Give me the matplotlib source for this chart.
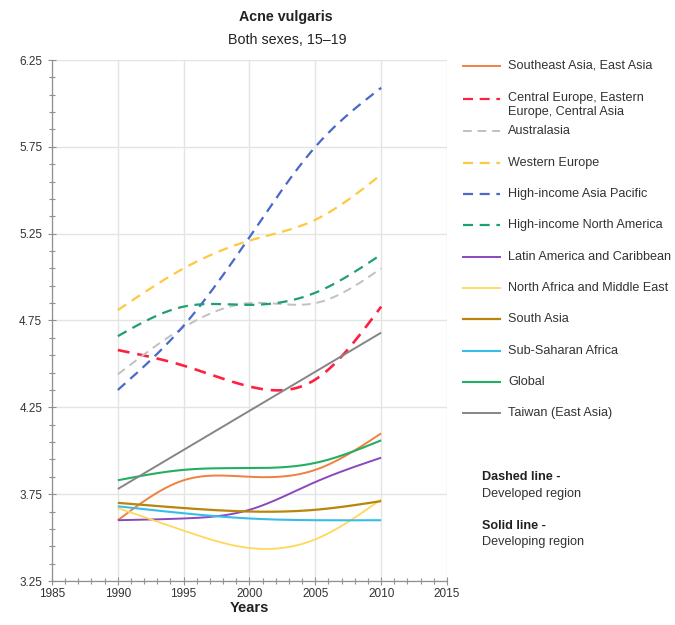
import numpy as np
import matplotlib
matplotlib.use("Agg")
import matplotlib.pyplot as plt
from matplotlib.lines import Line2D
from matplotlib.ticker import MultipleLocator, FixedLocator

plt.rcParams['font.family'] = ['Liberation Sans', 'DejaVu Sans']

years = [1990, 1995, 2000, 2005, 2010]

series_names = [
    "Southeast Asia, East Asia",
    "Central Europe, Eastern\nEurope, Central Asia",
    "Australasia",
    "Western Europe",
    "High-income Asia Pacific",
    "High-income North America",
    "Latin America and Caribbean",
    "North Africa and Middle East",
    "South Asia",
    "Sub-Saharan Africa",
    "Global",
    "Taiwan (East Asia)",
]

se_asia        = [3.60, 3.83, 3.85, 3.89, 4.10]
central_europe = [4.58, 4.49, 4.37, 4.41, 4.83]
australasia    = [4.44, 4.71, 4.85, 4.85, 5.05]
western_europe = [4.81, 5.05, 5.21, 5.33, 5.59]
hi_asia_pac    = [4.35, 4.72, 5.23, 5.75, 6.09]
hi_n_america   = [4.66, 4.83, 4.84, 4.91, 5.13]
latin_america  = [3.60, 3.61, 3.66, 3.82, 3.96]
n_africa_me    = [3.67, 3.54, 3.44, 3.49, 3.72]
south_asia     = [3.70, 3.67, 3.65, 3.66, 3.71]
sub_saharan    = [3.68, 3.64, 3.61, 3.60, 3.60]
global_vals    = [3.83, 3.89, 3.90, 3.93, 4.06]
taiwan         = [3.78, 4.005, 4.23, 4.455, 4.68]

all_values = [se_asia, central_europe, australasia, western_europe, hi_asia_pac,
              hi_n_america, latin_america, n_africa_me, south_asia, sub_saharan,
              global_vals, taiwan]

colors = ["#F08040", "#FF2040", "#C0C0C0", "#FFC840", "#4A68CC", "#1FA070",
          "#8A48C0", "#FFD85A", "#B8860B", "#38BDE8", "#22B060", "#858585"]
dashed = [False, True, True, True, True, True, False, False, False, False, False, False]
widths = [1.4, 1.9, 1.4, 1.6, 1.6, 1.6, 1.4, 1.3, 1.6, 1.5, 1.5, 1.4]

x_ticks = [1985, 1990, 1995, 2000, 2005, 2010, 2015]
y_ticks = [3.25, 3.75, 4.25, 4.75, 5.25, 5.75, 6.25]


def natural_spline(x, y, n=200):
    x = np.asarray(x, float)
    y = np.asarray(y, float)
    k = len(x)
    h = np.diff(x)
    A = np.zeros((k, k))
    b = np.zeros(k)
    A[0, 0] = 1
    A[-1, -1] = 1
    for i in range(1, k - 1):
        A[i, i - 1] = h[i - 1]
        A[i, i] = 2 * (h[i - 1] + h[i])
        A[i, i + 1] = h[i]
        b[i] = 3 * ((y[i + 1] - y[i]) / h[i] - (y[i] - y[i - 1]) / h[i - 1])
    c = np.linalg.solve(A, b)
    xs = np.linspace(x[0], x[-1], n)
    ys = np.empty_like(xs)
    for j, xv in enumerate(xs):
        i = min(np.searchsorted(x, xv, side='right') - 1, k - 2)
        dx = xv - x[i]
        bi = (y[i + 1] - y[i]) / h[i] - h[i] * (2 * c[i] + c[i + 1]) / 3
        di = (c[i + 1] - c[i]) / (3 * h[i])
        ys[j] = y[i] + bi * dx + c[i] * dx ** 2 + di * dx ** 3
    return xs, ys


W, H = 675, 625
fig = plt.figure(figsize=(W / 100, H / 100), dpi=100)
ax = fig.add_axes([52 / W, 1 - 581 / H, (447 - 52) / W, (581 - 60) / H])

ax.set_xlim(1985, 2015)
ax.set_ylim(3.25, 6.25)
ax.xaxis.set_major_locator(FixedLocator(x_ticks))
ax.yaxis.set_major_locator(FixedLocator(y_ticks))
ax.xaxis.set_minor_locator(MultipleLocator(1))
ax.yaxis.set_minor_locator(FixedLocator(np.arange(3.25, 6.26, 0.1)))
ax.set_xticklabels([str(t) for t in x_ticks])
ax.set_yticklabels([f"{t:.2f}" for t in y_ticks])
ax.grid(True, which='major', color='#E4E4E4', lw=1.0)
ax.set_axisbelow(True)
for s in ['top', 'right']:
    ax.spines[s].set_visible(False)
for s in ['left', 'bottom']:
    ax.spines[s].set_color('#909090')
    ax.spines[s].set_linewidth(0.9)
ax.tick_params(which='both', direction='inout', color='#909090', width=0.8,
               labelsize=8.5, labelcolor='#333333')
ax.tick_params(which='major', length=6)
ax.tick_params(which='minor', length=5)
ax.tick_params(axis='y', pad=4)
ax.tick_params(axis='x', pad=2)
ax.set_xlabel("Years", fontsize=10.5, fontweight='bold', labelpad=1, color='#222222')

for vals, col, d, lw in zip(all_values, colors, dashed, widths):
    xs, ys = natural_spline(years, vals)
    ls = (0, (4.5, 3)) if d else '-'
    ax.plot(xs, ys, color=col, lw=lw, linestyle=ls, solid_capstyle='butt')

fig.text(286 / W, 1 - 17 / H, "Acne vulgaris", ha='center', va='center',
         fontsize=10.3, fontweight='bold', color='#222222')
fig.text(287 / W, 1 - 40 / H, "Both sexes, 15\u201319", ha='center', va='center',
         fontsize=10.3, color='#222222')

# legend drawn manually
LEG_FS = 9.1
leg_y = [66, 99, 131, 163, 194, 225, 257, 288, 319, 351, 382, 413]
for name, col, d, lw, yy in zip(series_names, colors, dashed, widths, leg_y):
    yf = 1 - yy / H
    ls = (0, (4.5, 3)) if d else '-'
    fig.add_artist(Line2D([463 / W, 500 / W], [yf, yf], color=col, lw=min(lw, 1.6),
                          linestyle=ls, transform=fig.transFigure))
    if '\n' in name:
        fig.text(508 / W, yf + 7 / H, name, ha='left', va='top', fontsize=LEG_FS,
                 color='#333333', linespacing=1.2)
    else:
        fig.text(508 / W, yf, name, ha='left', va='center', fontsize=LEG_FS,
                 color='#333333')

fig.text(482 / W, 1 - 477 / H, "Dashed line -", ha='left', va='center',
         fontsize=LEG_FS, fontweight='bold', color='#222222')
fig.text(482 / W, 1 - 494 / H, "Developed region", ha='left', va='center',
         fontsize=LEG_FS, color='#333333')
fig.text(482 / W, 1 - 526 / H, "Solid line -", ha='left', va='center',
         fontsize=LEG_FS, fontweight='bold', color='#222222')
fig.text(482 / W, 1 - 542 / H, "Developing region", ha='left', va='center',
         fontsize=LEG_FS, color='#333333')

fig.savefig("out.png", dpi=100, facecolor='white')
